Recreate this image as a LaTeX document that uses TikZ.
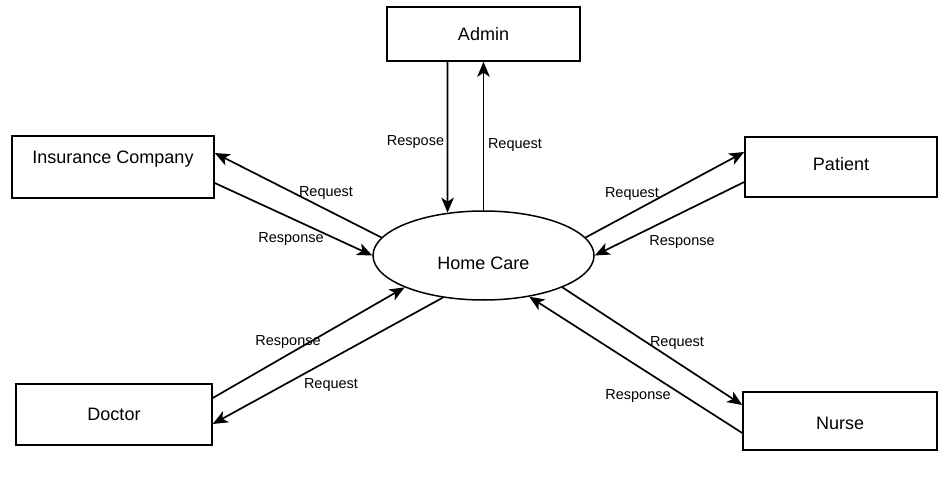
\documentclass[tikz,border=0pt]{standalone}
\usepackage{fontspec}
\setmainfont{Liberation Sans}
\usetikzlibrary{arrows.meta,shapes.geometric}

\begin{document}
\begin{tikzpicture}[x=1pt,y=-1pt,
  box/.style={draw=black,line width=1.5pt,rectangle,inner sep=0pt,font=\fontsize{18}{21}\selectfont},
  flow/.style={draw=black,line width=1.7pt,-{Stealth[length=15pt,width=12.5pt,inset=4pt]}},
  lbl/.style={inner sep=0pt,font=\fontsize{14.5}{17}\selectfont}]
\useasboundingbox (0,0) rectangle (950,478);
\node [box,minimum width=193pt,minimum height=54pt] (admin) at (483.5,34) {Admin};
\node [box,minimum width=202pt,minimum height=62pt,text depth=20pt] (ins) at (113,167) {Insurance Company};
\node [box,minimum width=192pt,minimum height=60pt,text depth=6pt] (pat) at (841,167) {Patient};
\node [box,minimum width=196pt,minimum height=61pt] (doc) at (114,414.5) {Doctor};
\node [box,minimum width=194pt,minimum height=58pt,text height=17pt] (nur) at (840,421) {Nurse};
\node [box,ellipse,minimum width=221pt,minimum height=89pt,text height=28pt] (hc) at (483.5,255.5) {Home Care};
\draw [flow] ([xshift=-36pt]admin.south) -- (hc.130);
\draw [flow] (hc.90) -- (admin.south);
\draw [flow] (hc.170) -- ([yshift=14pt]ins.east);
\draw [flow] ([yshift=-16pt]ins.east) -- (hc.180);
\draw [flow] ([yshift=16.5pt]doc.east) -- (hc.202);
\draw [flow] (hc.226) -- ([yshift=-9.5pt]doc.east);
\draw [flow] (hc.10) -- ([yshift=15pt]pat.west);
\draw [flow] ([yshift=-15pt]pat.west) -- (hc.0);
\draw [flow] (hc.-22) -- ([yshift=16pt]nur.west);
\draw [flow] ([yshift=-12pt]nur.west) -- (hc.-42);
\node [lbl] (l1) at (415.5,142) {Respose};
\node [lbl] (l2) at (515,145) {Request};
\node [lbl] (l3) at (326,193) {Request};
\node [lbl] (l4) at (291,239) {Response};
\node [lbl] (l5) at (288,342) {Response};
\node [lbl] (l6) at (331,385) {Request};
\node [lbl] (l7) at (632,194) {Request};
\node [lbl] (l8) at (682,242) {Response};
\node [lbl] (l9) at (677,343) {Request};
\node [lbl] (l10) at (638,396) {Response};
\end{tikzpicture}
\end{document}
